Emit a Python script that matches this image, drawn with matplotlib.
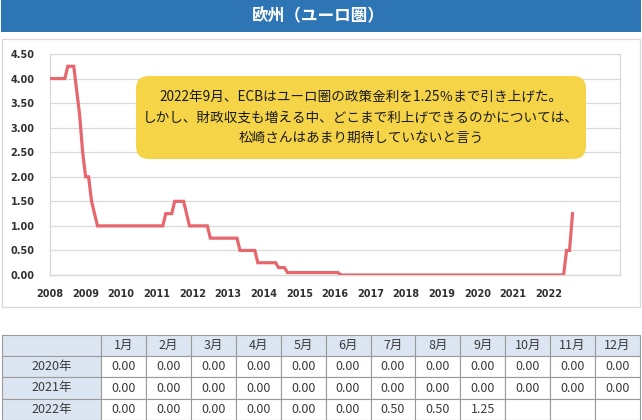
import numpy as np
import matplotlib
matplotlib.use("Agg")
import matplotlib.pyplot as plt
from matplotlib.patches import Rectangle, FancyBboxPatch

plt.rcParams['font.family'] = ['Noto Sans CJK JP', 'DejaVu Sans']

# ---------------- data ----------------
title = "欧州（ユーロ圏）"
start_year = 2008
rates_2008 = [4.00, 4.00, 4.00, 4.00, 4.00, 4.00, 4.25, 4.25, 4.25, 3.75, 3.25, 2.50]
rates_2009 = [2.00, 2.00, 1.50, 1.25, 1.00, 1.00, 1.00, 1.00, 1.00, 1.00, 1.00, 1.00]
rates_2010 = [1.00, 1.00, 1.00, 1.00, 1.00, 1.00, 1.00, 1.00, 1.00, 1.00, 1.00, 1.00]
rates_2011 = [1.00, 1.00, 1.00, 1.25, 1.25, 1.25, 1.50, 1.50, 1.50, 1.50, 1.25, 1.00]
rates_2012 = [1.00, 1.00, 1.00, 1.00, 1.00, 1.00, 0.75, 0.75, 0.75, 0.75, 0.75, 0.75]
rates_2013 = [0.75, 0.75, 0.75, 0.75, 0.50, 0.50, 0.50, 0.50, 0.50, 0.50, 0.25, 0.25]
rates_2014 = [0.25, 0.25, 0.25, 0.25, 0.25, 0.15, 0.15, 0.15, 0.05, 0.05, 0.05, 0.05]
rates_2015 = [0.05, 0.05, 0.05, 0.05, 0.05, 0.05, 0.05, 0.05, 0.05, 0.05, 0.05, 0.05]
rates_2016 = [0.05, 0.05, 0.00, 0.00, 0.00, 0.00, 0.00, 0.00, 0.00, 0.00, 0.00, 0.00]
rates_2017 = [0.00, 0.00, 0.00, 0.00, 0.00, 0.00, 0.00, 0.00, 0.00, 0.00, 0.00, 0.00]
rates_2018 = [0.00, 0.00, 0.00, 0.00, 0.00, 0.00, 0.00, 0.00, 0.00, 0.00, 0.00, 0.00]
rates_2019 = [0.00, 0.00, 0.00, 0.00, 0.00, 0.00, 0.00, 0.00, 0.00, 0.00, 0.00, 0.00]
rates_2020 = [0.00, 0.00, 0.00, 0.00, 0.00, 0.00, 0.00, 0.00, 0.00, 0.00, 0.00, 0.00]
rates_2021 = [0.00, 0.00, 0.00, 0.00, 0.00, 0.00, 0.00, 0.00, 0.00, 0.00, 0.00, 0.00]
rates_2022 = [0.00, 0.00, 0.00, 0.00, 0.00, 0.00, 0.50, 0.50, 1.25]

year_labels = [str(y) for y in range(2008, 2023)]
y_ticks = [0.0, 0.5, 1.0, 1.5, 2.0, 2.5, 3.0, 3.5, 4.0, 4.5]

note_lines = ["2022年9月、ECBはユーロ圏の政策金利を1.25％まで引き上げた。",
              "しかし、財政収支も増える中、どこまで利上げできるのかについては、",
              "松崎さんはあまり期待していないと言う"]

table_months = ["1月", "2月", "3月", "4月", "5月", "6月", "7月", "8月", "9月", "10月", "11月", "12月"]
table_rows = ["2020年", "2021年", "2022年"]
table_2020 = ["0.00"] * 12
table_2021 = ["0.00"] * 12
table_2022 = ["0.00", "0.00", "0.00", "0.00", "0.00", "0.00", "0.50", "0.50", "1.25", "", "", ""]

# ---------------- figure ----------------
W, H = 642, 420
fig = plt.figure(figsize=(W / 100, H / 100), dpi=100)
fig.patch.set_facecolor('white')

rates = (rates_2008 + rates_2009 + rates_2010 + rates_2011 + rates_2012 + rates_2013 +
         rates_2014 + rates_2015 + rates_2016 + rates_2017 + rates_2018 + rates_2019 +
         rates_2020 + rates_2021 + rates_2022)
x = start_year + np.arange(len(rates)) / 12.0

pl, pr, pt, pb = 50, 620, 54, 275
ax = fig.add_axes([pl / W, 1 - pb / H, (pr - pl) / W, (pb - pt) / H])
ax.set_facecolor('none')
ax.plot(x, rates, color='#E6676D', lw=2.3, solid_joinstyle='miter', zorder=3)
ax.set_xlim(2008, 2024)
ax.set_ylim(0, 4.5)

ax.set_yticks(y_ticks)
ax.set_yticklabels([f"{v:.2f}" for v in y_ticks])
ax.set_xticks([int(s) for s in year_labels])
ax.set_xticklabels(year_labels)
ax.set_xticks(np.arange(2008, 2025, 2), minor=True)
ax.grid(which='major', axis='y', color='#D9D9D9', lw=0.9)
ax.grid(which='minor', axis='x', color='#D9D9D9', lw=0.9)
ax.grid(which='major', axis='x', visible=False)
for t in ax.yaxis.get_major_ticks() + ax.xaxis.get_minor_ticks():
    t.gridline.set_clip_on(False)
ax.tick_params(which='both', length=0)
ax.tick_params(axis='y', pad=11)
ax.tick_params(axis='x', pad=10)
for lab in ax.get_xticklabels() + ax.get_yticklabels():
    lab.set_fontfamily('DejaVu Sans')
    lab.set_fontweight('bold')
    lab.set_fontsize(7)
    lab.set_color('#303030')
for s in ['top', 'right']:
    ax.spines[s].set_visible(False)
for s in ['left', 'bottom']:
    ax.spines[s].set_color('#D9D9D9')
    ax.spines[s].set_linewidth(0.9)

# ---------------- overlay (pixel coords) ----------------
ov = fig.add_axes([0, 0, 1, 1])
ov.set_xlim(0, W)
ov.set_ylim(H, 0)
ov.axis('off')
ov.set_facecolor('none')

# title bar
ov.add_patch(Rectangle((1, 0), W - 2, 32, facecolor='#2E75B6', edgecolor='none'))
ov.text(W / 2 - 3, 16.5, title, color='white', fontsize=12, fontweight='bold',
        ha='center', va='center')

# chart frame
ov.add_patch(Rectangle((2, 39), 638, 268, facecolor='none', edgecolor='#D9D9D9', lw=0.9))

# note box
ov.add_patch(FancyBboxPatch((136, 76), 450, 83, boxstyle="round,pad=0,rounding_size=13",
                            facecolor='#F5D448', edgecolor='none', zorder=5))
for i, line in enumerate(note_lines):
    ov.text(361, 98 + i * 20, line, fontsize=9.8, color='#1A1A1A',
            ha='center', va='center', zorder=6)

# table
t_top, row_h = 335, 21.2
c0_left, c0_right, t_right = 2, 101, 640
col_w = (t_right - c0_right) / len(table_months)
hdr_bg = '#DCE6F2'
edge = '#9A9A9A'
tcol = '#3A3A3A'
fs = 9

def cell(x0, y0, w, h, fc):
    ov.add_patch(Rectangle((x0, y0), w, h, facecolor=fc, edgecolor=edge, lw=0.8))

cell(c0_left, t_top, c0_right - c0_left, row_h, hdr_bg)
for j, m in enumerate(table_months):
    x0 = c0_right + j * col_w
    cell(x0, t_top, col_w, row_h, hdr_bg)
    ov.text(x0 + col_w / 2, t_top + row_h / 2, m, fontsize=fs, color=tcol,
            ha='center', va='center')

for i, (rname, vals) in enumerate(zip(table_rows, [table_2020, table_2021, table_2022])):
    y0 = t_top + (i + 1) * row_h
    cell(c0_left, y0, c0_right - c0_left, row_h, hdr_bg)
    ov.text((c0_left + c0_right) / 2, y0 + row_h / 2, rname, fontsize=fs, color=tcol,
            ha='center', va='center')
    for j, v in enumerate(vals):
        x0 = c0_right + j * col_w
        cell(x0, y0, col_w, row_h, 'white')
        if v:
            ov.text(x0 + col_w / 2, y0 + row_h / 2, v, fontsize=fs, color=tcol,
                    ha='center', va='center')

fig.savefig('out.png', dpi=100)
